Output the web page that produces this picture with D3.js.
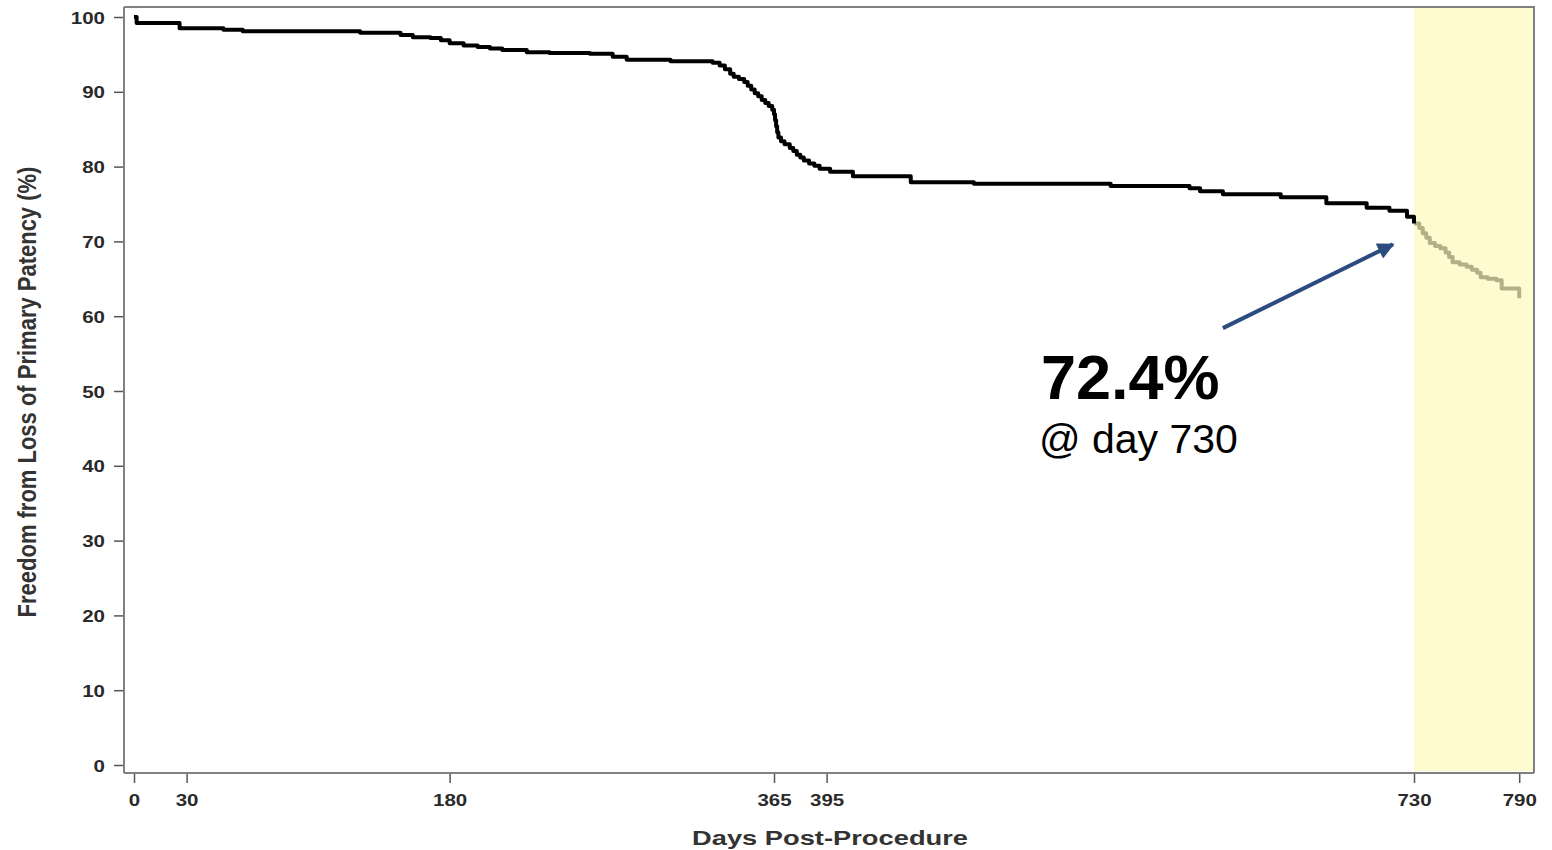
<!DOCTYPE html>
<html>
<head>
<meta charset="utf-8">
<script src="https://cdn.jsdelivr.net/npm/d3@7"></script>
<style>
  html, body { margin: 0; padding: 0; background: #fff; }
  svg { display: block; }
  text { font-family: "Liberation Sans", Arial, sans-serif; }
</style>
</head>
<body>
<svg id="chart" width="1552" height="850"></svg>
<script>
// ---- Data ----
const kmDays = [0, 1.5, 26, 51, 62, 129, 152, 159, 169, 175, 180, 188, 196, 203, 210, 224, 237, 260, 273, 281, 306, 330, 334, 337, 340, 342, 345, 348, 350, 352, 354, 356, 358, 360, 362, 364, 365, 365.6, 366.2, 366.8, 367.5, 369, 371, 374, 376, 378, 380, 382, 385, 388, 391, 397, 410, 443, 479, 557, 602, 608, 621, 654, 680, 703, 716, 726, 730];
const kmSurvival = [100, 99.2, 98.5, 98.3, 98.1, 97.9, 97.6, 97.3, 97.2, 96.9, 96.5, 96.2, 96.0, 95.8, 95.6, 95.3, 95.2, 95.1, 94.7, 94.3, 94.1, 93.9, 93.5, 93.0, 92.4, 92.0, 91.7, 91.3, 90.8, 90.3, 89.8, 89.4, 88.9, 88.5, 88.1, 87.6, 87.0, 86.2, 85.4, 84.6, 83.9, 83.4, 83.0, 82.5, 82.1, 81.6, 81.2, 80.8, 80.4, 80.1, 79.7, 79.3, 78.7, 77.9, 77.7, 77.4, 77.1, 76.7, 76.3, 75.9, 75.1, 74.5, 74.1, 73.3, 72.4];
const tailDays = [730, 733, 735, 737, 739, 742, 745, 748, 750, 752, 756, 760, 763, 766, 768, 772, 777, 780, 790];
const tailSurvival = [72.4, 71.8, 71.1, 70.5, 69.8, 69.4, 69.1, 68.5, 67.9, 67.2, 66.9, 66.6, 66.2, 65.8, 65.2, 65.0, 64.8, 63.7, 62.4];
const xTickValues = [0, 30, 180, 365, 395, 730, 790];
const yTickValues = [0, 10, 20, 30, 40, 50, 60, 70, 80, 90, 100];
const highlightRange = [730, 798.4];
const annotation = { value: "72.4%", sub: "@ day 730", day: 730 };
const xTitle = "Days Post-Procedure";
const yTitle = "Freedom from Loss of Primary Patency (%)";

// ---- Scales ----
const x = d3.scaleLinear().domain([0, 730]).range([134, 1414]);
const y = d3.scaleLinear().domain([0, 100]).range([765, 17]);
const frame = { left: 124, right: 1534, top: 7, bottom: 773 };
const sx = 1.28; // horizontal stretch of the original chart text

const svg = d3.select("#chart");

// highlight band
svg.append("rect")
  .attr("x", x(highlightRange[0]))
  .attr("y", frame.top)
  .attr("width", frame.right - x(highlightRange[0]))
  .attr("height", frame.bottom - frame.top - 2)
  .attr("fill", "#fffbd0");

// frame (top & right)
svg.append("path")
  .attr("d", `M${frame.left},${frame.top}H${frame.right}V${frame.bottom}`)
  .attr("fill", "none").attr("stroke", "#808080").attr("stroke-width", 2);

// Y axis
const yAxis = svg.append("g").attr("transform", `translate(${frame.left},0)`)
  .call(d3.axisLeft(y).tickValues(yTickValues).tickSize(10).tickPadding(0).tickFormat(d3.format("d")));
yAxis.select(".domain").attr("d", `M0,${frame.top}V${frame.bottom}`).attr("stroke", "#808080").attr("stroke-width", 2);
yAxis.selectAll(".tick line").attr("stroke", "#555").attr("stroke-width", 1.5).attr("x1", -1);
yAxis.selectAll(".tick text")
  .attr("x", null).attr("dy", null).attr("text-anchor", "end")
  .attr("transform", `translate(-19,6) scale(${sx},1)`)
  .attr("font-size", 16).attr("font-weight", "bold").attr("fill", "#2a2a2a");

// X axis
const xAxis = svg.append("g").attr("transform", `translate(0,${frame.bottom})`)
  .call(d3.axisBottom(x).tickValues(xTickValues).tickSize(10).tickPadding(0).tickFormat(d3.format("d")));
xAxis.select(".domain").attr("d", `M${frame.left},0H${frame.right}`).attr("stroke", "#808080").attr("stroke-width", 2);
xAxis.selectAll(".tick line").attr("stroke", "#555").attr("stroke-width", 1.5).attr("y1", 1);
xAxis.selectAll(".tick text")
  .attr("y", null).attr("dy", null).attr("text-anchor", "middle")
  .attr("transform", `translate(0,33) scale(${sx},1)`)
  .attr("font-size", 16).attr("font-weight", "bold").attr("fill", "#2a2a2a");
svg.selectAll(".domain").attr("fill", "none");

// Axis titles
svg.append("text")
  .attr("transform", `translate(830,845) scale(1.3,1)`)
  .attr("text-anchor", "middle").attr("font-size", 21).attr("font-weight", "bold").attr("fill", "#333")
  .text(xTitle);
svg.append("text")
  .attr("transform", `translate(36,392) scale(1.2,1) rotate(-90)`)
  .attr("text-anchor", "middle").attr("font-size", 22).attr("font-weight", "bold").attr("fill", "#333")
  .text(yTitle);

// Curves
const line = d3.line().x(d => x(d[0])).y(d => y(d[1])).curve(d3.curveStepAfter);
const kmData = kmDays.map((d, i) => [d, kmSurvival[i]]);
const tailData = tailDays.map((d, i) => [d, tailSurvival[i]]);

svg.append("path").datum(tailData)
  .attr("d", line).attr("fill", "none")
  .attr("stroke", "#b3b088").attr("stroke-width", 4).attr("stroke-linejoin", "round");
svg.append("path").datum(kmData)
  .attr("d", line).attr("fill", "none")
  .attr("stroke", "#000").attr("stroke-width", 4).attr("stroke-linejoin", "round");

// Annotation arrow
const defs = svg.append("defs");
defs.append("marker").attr("id", "arrow")
  .attr("viewBox", "0 0 10 10").attr("refX", 9).attr("refY", 5)
  .attr("markerWidth", 5).attr("markerHeight", 4.2).attr("orient", "auto")
  .attr("markerUnits", "strokeWidth")
  .append("path").attr("d", "M0,0L10,5L0,10Z").attr("fill", "#2b4c7e");

svg.append("line")
  .attr("x1", x(621)).attr("y1", y(58.4))
  .attr("x2", x(718)).attr("y2", y(69.6))
  .attr("stroke", "#2b4c7e").attr("stroke-width", 4)
  .attr("marker-end", "url(#arrow)");

svg.append("text")
  .attr("x", 1041).attr("y", 399)
  .attr("font-size", 63).attr("font-weight", "bold").attr("fill", "#000")
  .text(annotation.value);
svg.append("text")
  .attr("x", 1039).attr("y", 453)
  .attr("font-size", 41).attr("fill", "#000")
  .text(annotation.sub);
</script>
</body>
</html>
